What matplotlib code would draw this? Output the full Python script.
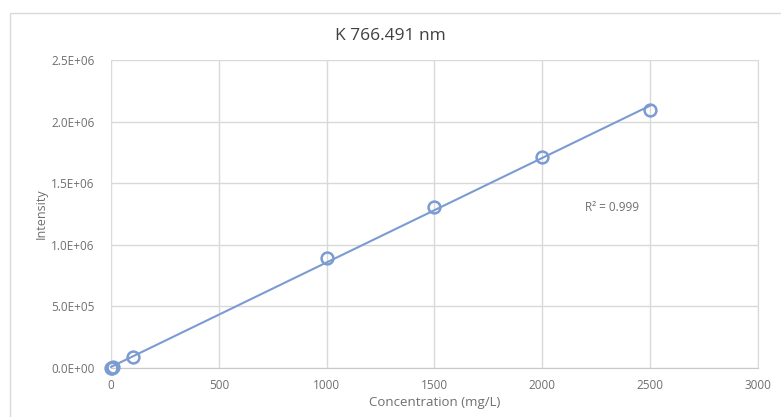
"""K 766.491 nm calibration curve."""

import numpy as np
import matplotlib.pyplot as plt
from matplotlib.patches import Rectangle

conc = [0, 5, 10, 100, 1000, 1500, 2000, 2500]
intensity = [0, 3.0e3, 6.5e3, 8.9e4, 8.93e5, 1.307e6, 1.713e6, 2.094e6]
x_ticks = [0, 500, 1000, 1500, 2000, 2500, 3000]
y_ticks = [0, 5e5, 1e6, 1.5e6, 2e6, 2.5e6]
r2_label = "R² = 0.999"

plt.rcParams['font.family'] = ['Open Sans', 'DejaVu Sans']

blue = '#7b9bd2'
grid = '#d9d9d9'
text = '#6f6f6f'


def main():
    fig = plt.figure(figsize=(7.81, 4.17), dpi=100)
    fig.patches.append(Rectangle((10/781, -0.01), 0.99, (417-13)/417 + 0.01,
                                 transform=fig.transFigure, fill=False,
                                 edgecolor='#d9d9d9', linewidth=1))
    ax = fig.add_axes([111/781, 49/417, 647/781, 308/417])

    # linear trendline from the data
    slope, icpt = np.polyfit(conc, intensity, 1)
    xs = np.array([min(conc), max(conc)])
    ax.plot(xs, slope*xs + icpt, color=blue, linewidth=1.5, zorder=3,
            clip_on=False)
    ax.plot(conc, intensity, 'o', mfc='none', mec=blue, mew=1.8,
            markersize=8.5, zorder=4, clip_on=False)

    ax.set_xlim(0, 3000)
    ax.set_ylim(0, 2.5e6)
    ax.set_xticks(x_ticks)
    ax.set_yticks(y_ticks)
    ax.set_yticklabels([f"{v:.1E}" for v in y_ticks])
    ax.grid(True, color=grid, linewidth=1)
    ax.set_axisbelow(True)
    for s in ['top', 'left']:
        ax.spines[s].set_visible(False)
    ax.spines['right'].set_color(grid)
    ax.spines['bottom'].set_color('#c8c8c8')
    ax.tick_params(length=0, labelsize=8.5, colors=text)
    ax.tick_params(axis='y', pad=12)
    ax.tick_params(axis='x', pad=8)

    ax.set_xlabel("Concentration (mg/L)", fontsize=9.5, color=text, labelpad=3)
    ax.set_ylabel("Intensity", fontsize=9, color=text, labelpad=2)
    fig.text(0.5, (417-36)/417, "K 766.491 nm", ha='center', va='center',
             fontsize=12.5, color='#404040')
    ax.text(2200, 1.3e6, r2_label, fontsize=8.5, color=text, va='center')

    fig.savefig('out.png', dpi=100)


main()
